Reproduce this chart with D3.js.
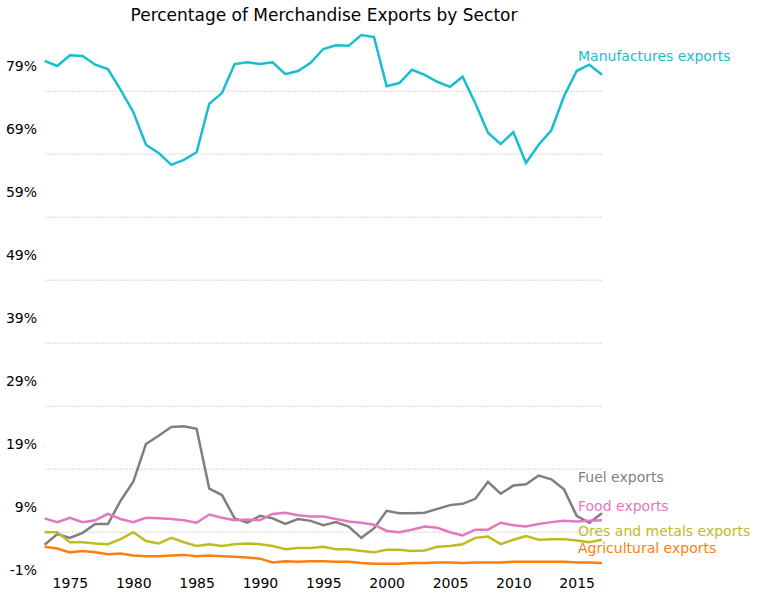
<!DOCTYPE html>
<html>
<head>
<meta charset="utf-8">
<script src="https://cdn.jsdelivr.net/npm/d3@7"></script>
<style>
body { margin: 0; background: #fff; font-family: "DejaVu Sans", sans-serif; }
</style>
</head>
<body>
<div id="chart"></div>
<script>
var years = d3.range(1973, 2018);
var manufactures = [79.8,79,80.7,80.6,79.2,78.5,75.2,71.7,66.5,65.2,63.3,64.1,65.3,73,74.7,79.3,79.6,79.3,79.6,77.7,78.2,79.5,81.7,82.3,82.2,83.9,83.6,75.8,76.3,78.4,77.6,76.5,75.7,77.3,73.1,68.4,66.6,68.5,63.6,66.5,68.8,74.2,78.2,79.2,77.6];
var fuel = [3.0,4.7,4.1,4.9,6.3,6.3,10,13,19,20.3,21.7,21.8,21.4,11.9,10.9,7.2,6.5,7.6,7.2,6.3,7.1,6.8,6.1,6.6,5.9,4.1,5.6,8.4,8.0,8.0,8.1,8.7,9.3,9.5,10.3,13,11.1,12.4,12.6,14,13.4,11.8,7.6,6.5,8.0];
var food = [7.2,6.6,7.3,6.6,6.9,7.9,7.1,6.6,7.3,7.2,7.1,6.9,6.5,7.8,7.3,6.9,7.0,6.9,7.9,8.1,7.7,7.5,7.5,7.1,6.7,6.5,6.2,5.2,5.0,5.4,5.9,5.7,5.0,4.5,5.4,5.4,6.5,6.1,5.9,6.3,6.6,6.8,6.7,6.8,6.9];
var ores = [5.0,5.0,3.4,3.4,3.2,3.1,3.9,5.0,3.6,3.2,4.1,3.4,2.8,3.1,2.8,3.1,3.2,3.1,2.8,2.3,2.5,2.5,2.7,2.3,2.3,2.0,1.8,2.2,2.2,2.0,2.1,2.7,2.8,3.1,4.1,4.3,3.1,3.8,4.4,3.8,3.9,3.9,3.7,3.4,3.8];
var agri = [2.7,2.4,1.8,2.0,1.8,1.5,1.6,1.3,1.2,1.2,1.3,1.4,1.2,1.3,1.2,1.1,1.0,0.8,0.2,0.4,0.3,0.4,0.4,0.3,0.3,0.1,0.0,0.0,0.0,0.1,0.1,0.2,0.2,0.1,0.2,0.2,0.2,0.3,0.3,0.3,0.3,0.3,0.2,0.2,0.1];
var seriesNames = ["Manufactures exports","Fuel exports","Food exports","Ores and metals exports","Agricultural exports"];
var seriesValues = [manufactures, fuel, food, ores, agri];
var colors = ["#17becf","#7f7f7f","#e377c2","#bcbd22","#ff7f0e"];
var labelY = [80.6, 13.8, 9.2, 5.2, 2.4];
var yTicks = d3.range(-1, 80, 10);
var gridVals = d3.range(5, 80, 10);
var xTicks = [1975,1980,1985,1990,1995,2000,2005,2010,2015];

var W = 758, H = 599;
var x = d3.scaleLinear().domain([1973, 2017]).range([44.6, 602]);
var y = d3.scaleLinear().domain([-1, 79]).range([570, 66]);

var svg = d3.select("#chart").append("svg").attr("width", W).attr("height", H);

svg.append("text").attr("x", 324).attr("y", 21).attr("text-anchor", "middle")
  .style("font-size", "17px").text("Percentage of Merchandise Exports by Sector");

svg.selectAll(".grid").data(gridVals).enter().append("line")
  .attr("x1", 45).attr("x2", 602)
  .attr("y1", function(d) { return y(d); }).attr("y2", function(d) { return y(d); })
  .attr("stroke", "#ccc").attr("stroke-width", 0.8).attr("stroke-dasharray", "2,1");

var yAxis = svg.append("g").attr("transform", "translate(44,0)")
  .call(d3.axisLeft(y).tickValues(yTicks).tickSize(0).tickPadding(7).tickFormat(function(d) { return d + "%"; }));
var xAxis = svg.append("g").attr("transform", "translate(0,570)")
  .call(d3.axisBottom(x).tickValues(xTicks).tickSize(0).tickPadding(8).tickFormat(d3.format("d")));
[xAxis, yAxis].forEach(function(a) {
  a.select(".domain").remove();
  a.selectAll("text").style("font-size", "14px").style("font-family", "DejaVu Sans").attr("fill", "#000");
});

var line = d3.line().x(function(d, i) { return x(years[i]); }).y(function(d) { return y(d); });
seriesValues.forEach(function(vals, k) {
  svg.append("path").datum(vals).attr("d", line)
    .attr("fill", "none").attr("stroke", colors[k]).attr("stroke-width", 2.5);
  svg.append("text").attr("x", 578).attr("y", y(labelY[k]))
    .attr("dy", "0.35em").attr("fill", colors[k]).style("font-size", "14px")
    .text(seriesNames[k]);
});
</script>
</body>
</html>
